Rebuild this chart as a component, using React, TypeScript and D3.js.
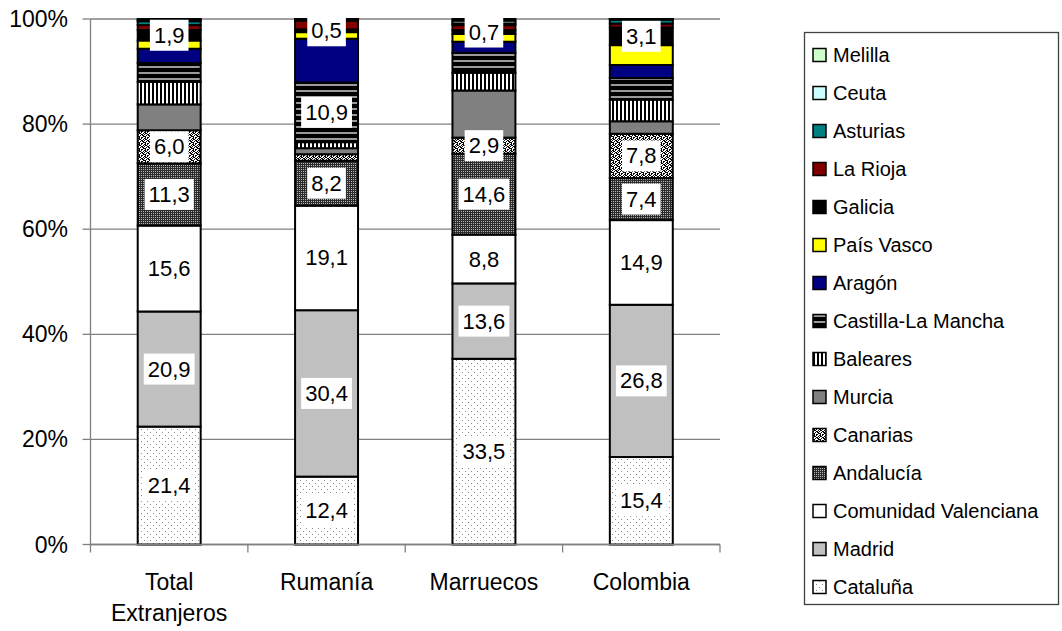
import { useEffect, useRef } from 'react';
import * as d3 from 'd3';

// categories (x axis), two lines each
const categories = ['Total Extranjeros', 'Rumanía', 'Marruecos', 'Colombia'];
const categoryLines = [['Total', 'Extranjeros'], ['Rumanía'], ['Marruecos'], ['Colombia']];

// series, bottom to top
const seriesNames = [
  'Cataluña', 'Madrid', 'Comunidad Valenciana', 'Andalucía', 'Canarias', 'Murcia',
  'Baleares', 'Castilla-La Mancha', 'Aragón', 'País Vasco', 'Galicia', 'La Rioja',
  'Asturias', 'Ceuta', 'Melilla',
];

// % of each group living in the region (bars are normalised to 100%)
const cataluna = [21.4, 12.4, 33.5, 15.4];
const madrid = [20.9, 30.4, 13.6, 26.8];
const comValenciana = [15.6, 19.1, 8.8, 14.9];
const andalucia = [11.3, 8.2, 14.6, 7.4];
const canarias = [6.0, 1.2, 2.9, 7.8];
const murcia = [4.7, 1.1, 8.5, 2.2];
const baleares = [4.1, 1.1, 3.2, 3.8];
const castillaLaMancha = [3.4, 10.9, 3.6, 3.8];
const aragon = [2.6, 8.0, 2.0, 2.3];
const paisVasco = [1.5, 1.2, 1.4, 3.5];
const galicia = [1.9, 0.5, 0.7, 3.1];
const laRioja = [0.9, 1.6, 0.9, 0.7];
const asturias = [0.7, 0.2, 0.3, 0.7];
const ceuta = [0.2, 0.05, 0.5, 0.05];
const melilla = [0.2, 0.05, 0.3, 0.05];

const seriesValues = [
  cataluna, madrid, comValenciana, andalucia, canarias, murcia, baleares,
  castillaLaMancha, aragon, paisVasco, galicia, laRioja, asturias, ceuta, melilla,
];

// which points carry a data label
const labelledSeries = ['Cataluña', 'Madrid', 'Comunidad Valenciana', 'Andalucía', 'Galicia'];
const extraLabels: [string, number][] = [
  ['Canarias', 0], ['Canarias', 2], ['Canarias', 3], ['Castilla-La Mancha', 1],
];

const FONT = '"Liberation Sans", Arial, sans-serif';

const fills: Record<string, string> = {
  'Cataluña': 'url(#p-cat)',
  'Madrid': '#C0C0C0',
  'Comunidad Valenciana': '#FFFFFF',
  'Andalucía': 'url(#p-and)',
  'Canarias': 'url(#p-can)',
  'Murcia': '#808080',
  'Baleares': 'url(#p-bal)',
  'Castilla-La Mancha': 'url(#p-clm)',
  'Aragón': '#000080',
  'País Vasco': '#FFFF00',
  'Galicia': '#000000',
  'La Rioja': '#800000',
  'Asturias': '#008080',
  'Ceuta': '#CCFFFF',
  'Melilla': '#CCFFCC',
};

const App = () => {
  const ref = useRef<SVGSVGElement>(null);

  useEffect(() => {
    if (!ref.current) return;
    const svg = d3.select(ref.current);
    svg.selectAll('*').remove();

    // patterns
    const defs = svg.append('defs');
    const addPattern = (id: string, w: number, h: number, bg: string, cells: number[][], fill: string) => {
      const p = defs.append('pattern')
        .attr('id', id)
        .attr('patternUnits', 'userSpaceOnUse')
        .attr('width', w)
        .attr('height', h);
      p.append('rect').attr('width', w).attr('height', h).attr('fill', bg);
      cells.forEach(c => {
        p.append('rect')
          .attr('x', c[0]).attr('y', c[1])
          .attr('width', c[2] ?? 1).attr('height', c[3] ?? 1)
          .attr('fill', fill);
      });
    };
    addPattern('p-cat', 6, 6, '#fff', [[0, 0], [3, 3]], '#8a8a8a');
    addPattern('p-and', 4, 4, '#2b2b2b', [[1, 1], [3, 1], [1, 3], [3, 3]], '#b8b8b8');
    addPattern('p-can', 6, 6, '#fff', [
      [0, 0], [1, 0], [3, 0], [1, 1], [2, 1], [5, 1], [0, 2], [3, 2], [4, 2],
      [2, 3], [4, 3], [5, 3], [0, 4], [1, 4], [5, 4], [1, 5], [3, 5], [4, 5],
    ], '#000');
    addPattern('p-bal', 4, 4, '#fff', [[0, 0, 2, 4]], '#000');
    addPattern('p-clm', 4, 6, '#000', [[0, 0, 4, 2]], '#9a9a9a');

    const margin = { left: 90.5, right: 720, top: 19, bottom: 544.5 };

    const x = d3.scaleBand()
      .domain(categories)
      .range([margin.left, margin.right])
      .paddingInner(0)
      .paddingOuter(0);
    const barW = x.bandwidth() * 0.4;

    const y = d3.scaleLinear().domain([0, 1]).range([margin.bottom, margin.top]);

    // rows for the stack
    const rows = categories.map((c, i) => {
      const r: Record<string, number | string> = { category: c };
      seriesNames.forEach((s, k) => { r[s] = seriesValues[k][i]; });
      return r;
    });
    const stacked = d3.stack<Record<string, number | string>>()
      .keys(seriesNames)
      .value((d, key) => d[key] as number)
      .offset(d3.stackOffsetExpand)(rows);

    // gridlines
    const ticks = y.ticks(5);
    svg.append('g')
      .selectAll('line')
      .data(ticks)
      .enter()
      .append('line')
      .attr('x1', margin.left)
      .attr('x2', margin.right)
      .attr('y1', d => y(d))
      .attr('y2', d => y(d))
      .attr('stroke', '#808080')
      .attr('stroke-width', 1.3);

    // bars
    const layers = svg.append('g')
      .selectAll('g')
      .data(stacked)
      .enter()
      .append('g')
      .attr('fill', d => fills[d.key]);
    layers.selectAll('rect')
      .data(d => d)
      .enter()
      .append('rect')
      .attr('x', d => (x(d.data.category as string) || 0) + (x.bandwidth() - barW) / 2)
      .attr('y', d => y(d[1]))
      .attr('width', barW)
      .attr('height', d => y(d[0]) - y(d[1]))
      .attr('stroke', '#000')
      .attr('stroke-width', 2);

    // data labels
    const fmt = (v: number) => d3.format('.1f')(v).replace('.', ',');
    const labelG = svg.append('g');
    stacked.forEach((layer, k) => {
      layer.forEach((d, i) => {
        const show = labelledSeries.includes(layer.key) ||
          extraLabels.some(e => e[0] === layer.key && e[1] === i);
        if (!show) return;
        const cx = (x(categories[i]) || 0) + x.bandwidth() / 2;
        const cy = (y(d[0]) + y(d[1])) / 2;
        const g = labelG.append('g');
        const bg = g.append('rect').attr('fill', '#fff');
        const t = g.append('text')
          .attr('x', cx)
          .attr('y', cy)
          .attr('text-anchor', 'middle')
          .attr('dominant-baseline', 'central')
          .style('font-family', FONT)
          .style('font-size', '22px')
          .attr('fill', '#000')
          .text(fmt(seriesValues[k][i]));
        const w = (t.node() as SVGTextElement).getComputedTextLength();
        bg.attr('x', cx - w / 2 - 4)
          .attr('y', cy - 15.5)
          .attr('width', w + 8)
          .attr('height', 31);
      });
    });

    // y axis
    svg.append('line')
      .attr('x1', margin.left).attr('x2', margin.left)
      .attr('y1', margin.top).attr('y2', margin.bottom)
      .attr('stroke', '#808080').attr('stroke-width', 1.3);
    svg.append('g')
      .selectAll('line')
      .data(ticks)
      .enter()
      .append('line')
      .attr('x1', margin.left - 8).attr('x2', margin.left)
      .attr('y1', d => y(d)).attr('y2', d => y(d))
      .attr('stroke', '#808080').attr('stroke-width', 1.3);
    svg.append('g')
      .selectAll('text')
      .data(ticks)
      .enter()
      .append('text')
      .attr('x', 68)
      .attr('y', d => y(d))
      .attr('text-anchor', 'end')
      .attr('dominant-baseline', 'central')
      .style('font-family', FONT)
      .style('font-size', '23px')
      .text(d => d3.format('.0%')(d));

    // x axis
    svg.append('line')
      .attr('x1', margin.left).attr('x2', margin.right)
      .attr('y1', margin.bottom).attr('y2', margin.bottom)
      .attr('stroke', '#808080').attr('stroke-width', 1.3);
    const bounds = categories.map(c => x(c) || 0).concat([margin.right]);
    svg.append('g')
      .selectAll('line')
      .data(bounds)
      .enter()
      .append('line')
      .attr('x1', d => d).attr('x2', d => d)
      .attr('y1', margin.bottom).attr('y2', margin.bottom + 8)
      .attr('stroke', '#808080').attr('stroke-width', 1.3);
    categories.forEach((c, i) => {
      const t = svg.append('text')
        .attr('x', (x(c) || 0) + x.bandwidth() / 2)
        .attr('y', 582)
        .attr('text-anchor', 'middle')
        .attr('dominant-baseline', 'central')
        .style('font-family', FONT)
        .style('font-size', '23px');
      categoryLines[i].forEach((line, j) => {
        t.append('tspan')
          .attr('x', (x(c) || 0) + x.bandwidth() / 2)
          .attr('dy', j === 0 ? 0 : 31)
          .text(line);
      });
    });

    // legend
    svg.append('rect')
      .attr('x', 804.5).attr('y', 32.5)
      .attr('width', 254).attr('height', 572)
      .attr('fill', '#fff')
      .attr('stroke', '#404040')
      .attr('stroke-width', 1.3);
    const legendItems = seriesNames.slice().reverse();
    const row = svg.append('g')
      .selectAll('g')
      .data(legendItems)
      .enter()
      .append('g')
      .attr('transform', (_d, i) => `translate(813, ${55 + i * 38})`);
    row.append('rect')
      .attr('x', 0).attr('y', -6.5)
      .attr('width', 13).attr('height', 13)
      .attr('fill', d => fills[d])
      .attr('stroke', '#000')
      .attr('stroke-width', 1.5);
    row.append('text')
      .attr('x', 20)
      .attr('y', 0)
      .attr('dominant-baseline', 'central')
      .style('font-family', FONT)
      .style('font-size', '20px')
      .text(d => d);
  }, []);

  return (
    <svg
      ref={ref}
      width={1062}
      height={631}
      style={{ position: 'absolute', left: 0, top: 0, background: '#fff' }}
    />
  );
};

export default App;
